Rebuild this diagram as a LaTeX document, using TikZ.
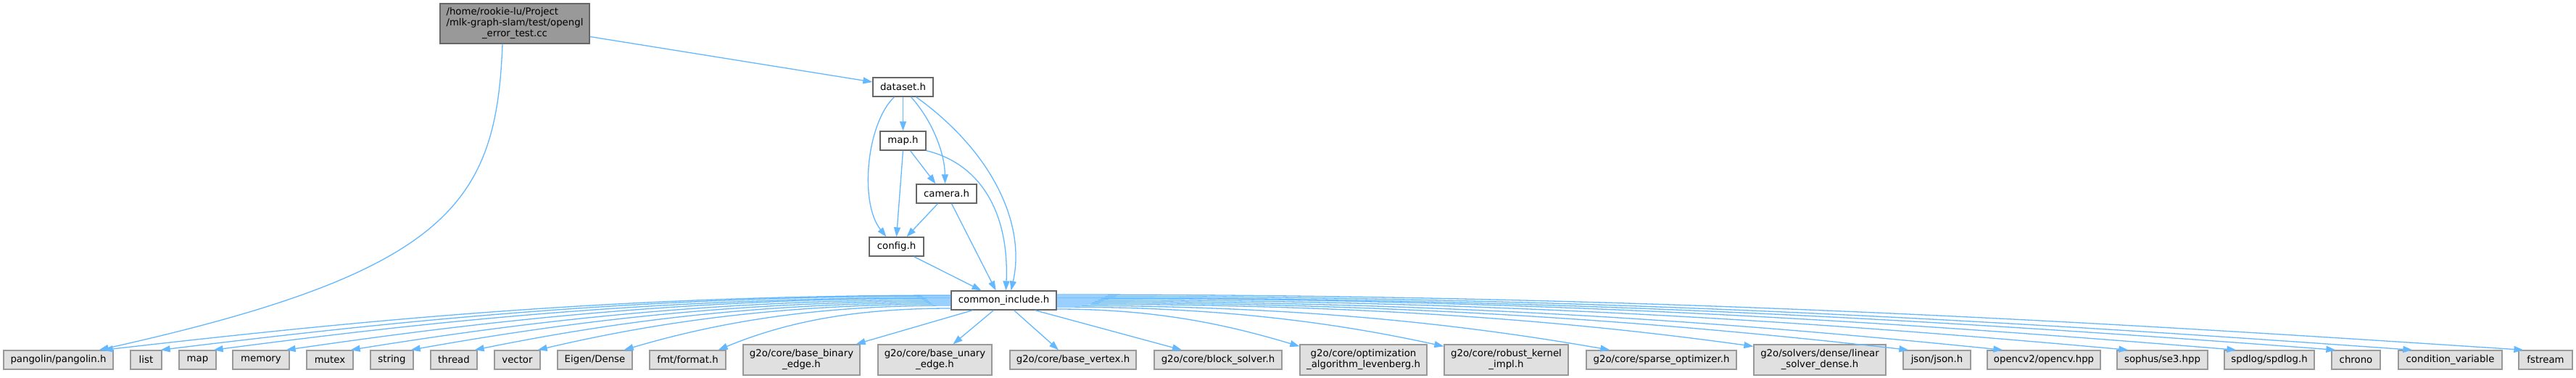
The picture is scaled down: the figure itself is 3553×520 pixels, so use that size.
\documentclass[tikz,border=0pt]{standalone}
\usepackage{fontspec}
\setmainfont{DejaVu Sans}
\usetikzlibrary{arrows.meta}
\definecolor{edgeblue}{HTML}{63B8FF}
\definecolor{docborder}{HTML}{666666}
\definecolor{extborder}{HTML}{999999}
\definecolor{extfill}{HTML}{E0E0E0}
\definecolor{rootfill}{HTML}{999999}
\newcommand\lbl{\fontsize{13.3}{15}\selectfont}
\begin{document}
\begin{tikzpicture}[x=1pt,y=-1pt,
  box/.style={draw, line width=1.3pt, inner sep=0pt, minimum height=26pt, font=\lbl, text=black},
  doc/.style={box, draw=docborder, fill=white},
  ext/.style={box, draw=extborder, fill=extfill},
  dbl/.style={minimum height=42pt, align=center},
  e/.style={draw=edgeblue, line width=1.3pt, -{Triangle[length=13pt,width=9pt]}}]
\useasboundingbox[fill=white] (0,0) rectangle (3553,520);

% top part
\node[box, draw=docborder, fill=rootfill, minimum width=206pt, minimum height=55pt] (root) at (710,32.5)
  {\begin{tabular}{@{}l@{}}/home/rookie-lu/Project\\/mlk-graph-slam/test/opengl\\\multicolumn{1}{@{}c@{}}{\_error\_test.cc}\end{tabular}};
\node[doc, minimum width=83pt] (dataset) at (1245.5,120) {dataset.h};
\node[doc, minimum width=63pt] (maph) at (1245.5,194) {map.h};
\node[doc, minimum width=83pt] (camera) at (1305.5,267) {camera.h};
\node[doc, minimum width=75pt] (config) at (1236.5,340) {config.h};
\node[doc, minimum width=145pt] (common) at (1384.5,414) {common\_include.h};

% bottom row
\node[ext, minimum width=151pt] (pangolin) at (80.5,496) {pangolin/pangolin.h};
\node[ext, minimum width=43pt] (list) at (201.5,496) {list};
\node[ext, minimum width=51pt] (mapstd) at (272.5,496) {map};
\node[ext, minimum width=78pt] (memory) at (360,496) {memory};
\node[ext, minimum width=64pt] (mutex) at (455,496) {mutex};
\node[ext, minimum width=59pt] (strng) at (540.5,496) {string};
\node[ext, minimum width=64pt] (thread) at (626,496) {thread};
\node[ext, minimum width=63pt] (vector) at (713.5,496) {vector};
\node[ext, minimum width=103pt] (eigen) at (820.5,496) {Eigen/Dense};
\node[ext, minimum width=105pt] (fmt) at (948.5,496) {fmt/format.h};
\node[ext, dbl, minimum width=161pt] (binary) at (1105.5,496) {g2o/core/base\_binary\\\_edge.h};
\node[ext, dbl, minimum width=157pt] (unary) at (1289.5,496) {g2o/core/base\_unary\\\_edge.h};
\node[ext, minimum width=174pt] (vertex) at (1480,496) {g2o/core/base\_vertex.h};
\node[ext, minimum width=176pt] (block) at (1680,496) {g2o/core/block\_solver.h};
\node[ext, dbl, minimum width=175pt] (lev) at (1880.5,496) {g2o/core/optimization\\\_algorithm\_levenberg.h};
\node[ext, dbl, minimum width=171pt] (robust) at (2077.5,496) {g2o/core/robust\_kernel\\\_impl.h};
\node[ext, minimum width=207pt] (sparse) at (2291.5,496) {g2o/core/sparse\_optimizer.h};
\node[ext, dbl, minimum width=182pt] (linear) at (2510,496) {g2o/solvers/dense/linear\\\_solver\_dense.h};
\node[ext, minimum width=93pt] (json) at (2671.5,496) {json/json.h};
\node[ext, minimum width=156pt] (opencv) at (2819,496) {opencv2/opencv.hpp};
\node[ext, minimum width=125pt] (sophus) at (2982.5,496) {sophus/se3.hpp};
\node[ext, minimum width=124pt] (spdlog) at (3130,496) {spdlog/spdlog.h};
\node[ext, minimum width=67pt] (chrono) at (3249.5,496) {chrono};
\node[ext, minimum width=143pt] (condvar) at (3379.5,496) {condition\_variable};
\node[ext, minimum width=74pt] (fstream) at (3511,496) {fstream};

% top edges
\draw[e] ([yshift=-18pt]root.east) -- ([yshift=7pt]dataset.west);
\draw[e] ([xshift=-17pt]root.south) .. controls (685,280) and (620,375) .. ([xshift=-20pt]pangolin.north east);
\draw[e] (dataset.south) -- (maph.north);
\draw[e] ([xshift=-12pt]dataset.south) .. controls (1195,170) and (1185,280) .. ([xshift=-14pt]config.north);
\draw[e] ([xshift=11pt]dataset.south) .. controls (1285,165) and (1303,210) .. ([xshift=-2pt]camera.north);
\draw[e] ([xshift=18pt]dataset.south) .. controls (1370,210) and (1415,310) .. ([xshift=10pt]common.north);
\draw[e] (maph.south) -- (config.north);
\draw[e] ([xshift=10pt]maph.south) -- ([xshift=-15pt]camera.north);
\draw[e] (maph.south east) .. controls (1350,225) and (1392,290) .. ([xshift=3pt]common.north);
\draw[e] ([xshift=-12pt]camera.south) -- ([xshift=14pt]config.north);
\draw[e] ([xshift=7pt]camera.south) -- ([xshift=-11pt]common.north);
\draw[e] ([xshift=24pt]config.south) -- ([xshift=-31pt]common.north);

% common -> bottom, direct
\draw[e] ([xshift=-43pt]common.south) -- ([xshift=-6pt]binary.north east);
\draw[e] ([xshift=-14pt]common.south) -- ([xshift=25pt]unary.north);
\draw[e] ([xshift=14pt]common.south) -- ([xshift=-20pt]vertex.north);
\draw[e] ([xshift=43pt]common.south) -- ([xshift=-50pt]block.north);

% common -> left side targets
\foreach \nm/\sy/\dd/\tx in {pangolin/7/1170/-14, list/6/1091/-2, mapstd/4/1018/-4, memory/3/918/-5,
  mutex/1/829/-4, strng/-1/746/-4, thread/-3/658/-4, vector/-5/571/-4, eigen/-7/452/-12, fmt/-11/322/-11}
  \draw[e] ([yshift=\sy pt]common.west) .. controls +({-0.4*\dd},0) and +({0.3*\dd},-40) .. ([xshift=\tx pt]\nm.north east);

% common -> right side targets
\draw[e] ([yshift=-12pt]common.east) .. controls +(137,0) and +(-100,-30) .. ([yshift=-3pt]lev.north west);
\draw[e] ([yshift=-9pt]common.east) .. controls +(214,0) and +(-160,-35) .. ([yshift=-3pt]robust.north west);
\draw[e] ([yshift=-5pt]common.east) .. controls +(385,0) and +(-290,-40) .. ([yshift=-3pt]linear.north west);
\foreach \nm/\sy/\dd/\tx in {sparse/-7/764/33, json/-3/1176/8, opencv/-1/1306/22, sophus/1/1479/16,
  spdlog/3/1628/17, chrono/4/1765/6, condvar/6/1871/20, fstream/8/2024/7}
  \draw[e] ([yshift=\sy pt]common.east) .. controls +({0.4*\dd},0) and +({-0.3*\dd},-40) .. ([xshift=\tx pt]\nm.north west);
\end{tikzpicture}
\end{document}
